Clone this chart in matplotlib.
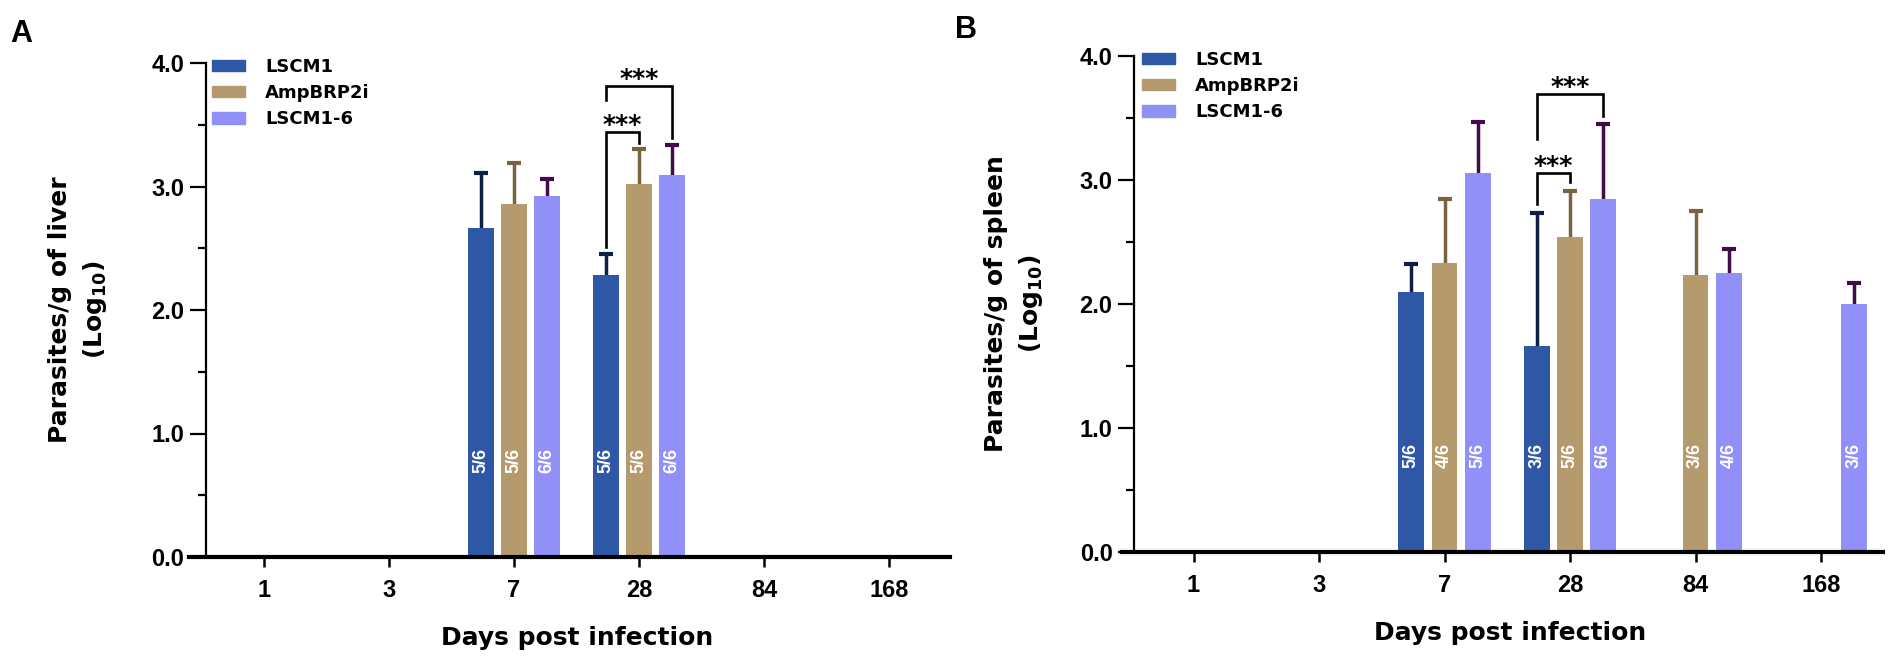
import numpy as np
import matplotlib
matplotlib.use("Agg")
import matplotlib.pyplot as plt
from matplotlib.patches import Patch
from matplotlib.ticker import MultipleLocator, FormatStrFormatter

plt.rcParams['font.family'] = 'DejaVu Sans'
plt.rcParams['font.weight'] = 'bold'
plt.rcParams['axes.labelweight'] = 'bold'
plt.rcParams['mathtext.default'] = 'bf'

days = ['1', '3', '7', '28', '84', '168']
groups = ['LSCM1', 'AmpBRP2i', 'LSCM1-6']
bar_colors = ['#2E58A6', '#B59A6E', '#9090F8']
err_colors = ['#0F1E45', '#7A6440', '#420C4A']

nan = np.nan
# liver (panel A)
liver_mean = [
    [nan, nan, 2.66, 2.28, nan, nan],
    [nan, nan, 2.86, 3.02, nan, nan],
    [nan, nan, 2.92, 3.09, nan, nan],
]
liver_err = [
    [0, 0, 0.45, 0.17, 0, 0],
    [0, 0, 0.33, 0.28, 0, 0],
    [0, 0, 0.14, 0.25, 0, 0],
]
liver_n = [
    ['', '', '5/6', '5/6', '', ''],
    ['', '', '5/6', '5/6', '', ''],
    ['', '', '6/6', '6/6', '', ''],
]
# spleen (panel B)
spleen_mean = [
    [nan, nan, 2.10, 1.66, nan, nan],
    [nan, nan, 2.33, 2.54, 2.23, nan],
    [nan, nan, 3.06, 2.85, 2.25, 2.00],
]
spleen_err = [
    [0, 0, 0.22, 1.07, 0, 0],
    [0, 0, 0.52, 0.37, 0.52, 0],
    [0, 0, 0.41, 0.60, 0.19, 0.17],
]
spleen_n = [
    ['', '', '5/6', '3/6', '', ''],
    ['', '', '4/6', '5/6', '3/6', ''],
    ['', '', '5/6', '6/6', '4/6', '3/6'],
]
# significance brackets: (day index, bar a, bar b, height, left leg end, right leg end)
liver_sig = [(3, 0, 1, 3.44, 2.51, 3.35), (3, 0, 2, 3.81, 3.70, 3.39)]
spleen_sig = [(3, 0, 1, 3.06, 2.81, 2.98), (3, 0, 2, 3.69, 3.33, 3.52)]

W, H = 1892, 667
fig = plt.figure(figsize=(W / 100, H / 100), dpi=100)

width = 0.205
offs = [-0.265, 0, 0.265]


def px_rect(l, r, t, b):
    return [l / W, 1 - b / H, (r - l) / W, (b - t) / H]


def panel(rect, xlim, spine_x, mean, err, nlab, sig, ylabel, lab_x, leg_xy):
    ax = fig.add_axes(rect)
    x = np.arange(len(days))
    for g in range(3):
        m = np.array(mean[g], dtype=float)
        e = np.array(err[g], dtype=float)
        ok = ~np.isnan(m)
        xs = x[ok] + offs[g]
        ax.bar(xs, m[ok], width, color=bar_colors[g], zorder=2)
        ax.vlines(xs, m[ok], m[ok] + e[ok], color=err_colors[g], lw=2.5, zorder=1)
        ax.plot(xs, m[ok] + e[ok], ls='none', marker='_', ms=9.5, mew=3,
                color=err_colors[g], zorder=1)
        for xi, lab in zip(x, nlab[g]):
            if lab:
                ax.text(xi + offs[g], 0.78, lab, rotation=90, ha='center', va='center',
                        color='white', fontsize=13, family='Liberation Sans',
                        fontweight='bold', zorder=3)
    for d, a, b, h, la, lb in sig:
        xa, xb = d + offs[a], d + offs[b]
        ax.plot([xa, xa, xb, xb], [la, h, h, lb], color='black', lw=1.9,
                solid_joinstyle='miter', clip_on=False, zorder=4)
        ax.text((xa + xb) / 2, h, '***', ha='center', va='baseline', fontsize=18,
                clip_on=False)

    ax.set_xlim(*xlim)
    ax.set_ylim(0, 4)
    ax.set_xticks(x)
    ax.set_xticklabels(days)
    ax.yaxis.set_major_locator(MultipleLocator(1))
    ax.yaxis.set_minor_locator(MultipleLocator(0.5))
    ax.yaxis.set_major_formatter(FormatStrFormatter('%.1f'))
    ax.tick_params(axis='y', which='major', length=11.5, width=1.6, pad=4,
                   labelsize=17, labelfontfamily='Liberation Sans')
    ax.tick_params(axis='y', which='minor', length=6, width=1.6)
    ax.tick_params(axis='x', length=7, width=1.8, pad=9, labelsize=17,
                   labelfontfamily='Liberation Sans')
    for t in ax.get_xticklabels() + ax.get_yticklabels():
        t.set_fontweight('bold')
    for s in ['top', 'right']:
        ax.spines[s].set_visible(False)
    ax.spines['left'].set_position(('data', spine_x))
    ax.spines['left'].set_linewidth(1.6)
    ax.spines['left'].set_bounds(0, 4)
    ax.spines['bottom'].set_linewidth(3)
    ax.spines['bottom'].set_zorder(5)

    ax.set_ylabel(ylabel, fontsize=18, linespacing=1.45, fontweight='bold')
    ax.yaxis.set_label_coords(lab_x, 0.5)
    ax.set_xlabel('Days post infection', fontsize=18, fontweight='bold')
    ax.xaxis.set_label_coords(0.51, -0.14)

    handles = [Patch(color=c, label=l) for c, l in zip(bar_colors, groups)]
    fig.legend(handles=handles, loc='upper left',
               bbox_to_anchor=(leg_xy[0] / W, 1 - leg_xy[1] / H), frameon=False,
               prop={'size': 13, 'weight': 'bold'},
               handlelength=1.85, handleheight=0.6, handletextpad=1.1,
               labelspacing=0.45, borderpad=0, borderaxespad=0)
    return ax


panel(px_rect(189, 950, 63, 557), (-0.6, 5.488), -0.464,
      liver_mean, liver_err, liver_n, liver_sig,
      'Parasites/g of liver\n(Log$_{10}$)', -0.105, (212, 58))
panel(px_rect(1122, 1883, 56, 552), (-0.57, 5.494), -0.474,
      spleen_mean, spleen_err, spleen_n, spleen_sig,
      'Parasites/g of spleen\n(Log$_{10}$)', -0.101, (1142, 51))

fig.text(10 / W, 1 - 42 / H, 'A', fontsize=22, family='Liberation Sans',
         fontweight='bold', va='baseline')
fig.text(955 / W, 1 - 38 / H, 'B', fontsize=22, family='Liberation Sans',
         fontweight='bold', va='baseline')

fig.savefig('out.png', dpi=100)
